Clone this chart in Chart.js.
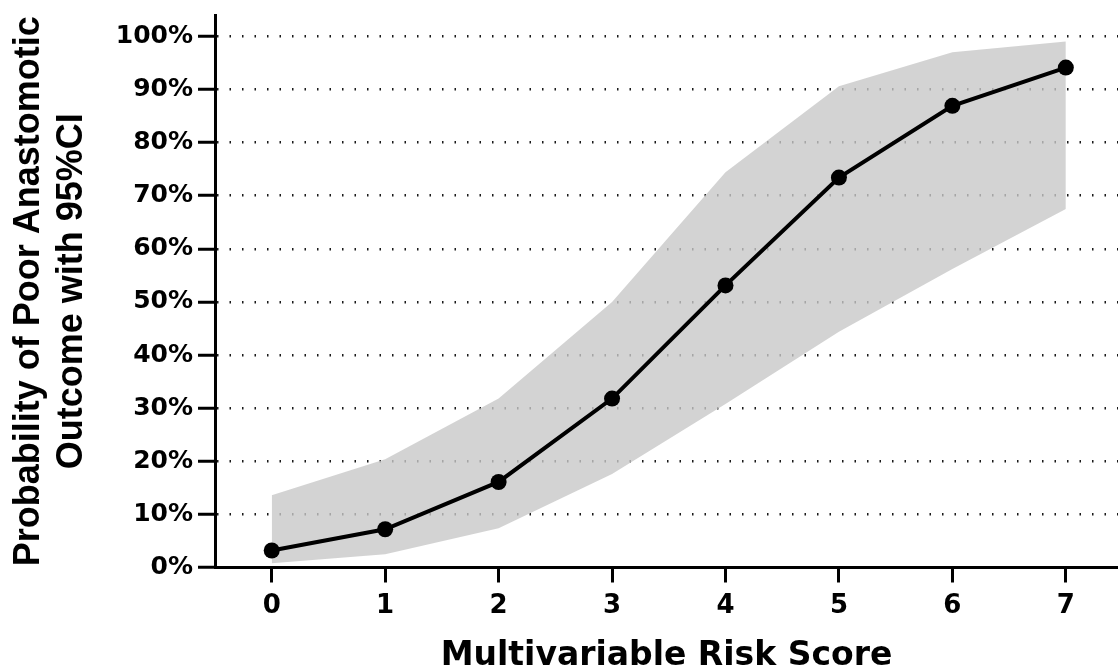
<!DOCTYPE html>
<html>
<head>
<meta charset="utf-8">
<title>Probability of Poor Anastomotic Outcome</title>
<script src="https://cdn.jsdelivr.net/npm/chart.js@4"></script>
<style>
  html, body { margin: 0; padding: 0; background: #fff; }
  #wrap { width: 1118px; height: 671px; }
</style>
</head>
<body>
<div id="wrap"><canvas id="chart" width="1118" height="671"></canvas></div>
<script>
// risk score 0..7
const scores = [0, 1, 2, 3, 4, 5, 6, 7];
// predicted probability (%)
const probability = [3.2, 7.2, 16.1, 31.8, 53.1, 73.4, 86.9, 94.1];
// 95% CI bounds (%)
const ciUpper = [13.6, 20.4, 31.8, 50.0, 74.4, 90.6, 97.0, 99.0];
const ciLower = [0.8, 2.5, 7.4, 17.6, 30.8, 44.4, 56.2, 67.5];
const yTicks = [0, 10, 20, 30, 40, 50, 60, 70, 80, 90, 100];

const toPoints = (vals) => scores.map((s, i) => ({ x: s, y: vals[i] }));

const tickFont = { family: "DejaVu Sans", weight: "bold", size: 25 };

new Chart(document.getElementById("chart"), {
  type: "line",
  data: {
    datasets: [
      {
        label: "Probability",
        data: toPoints(probability),
        borderColor: "#000",
        backgroundColor: "#000",
        borderWidth: 4,
        pointRadius: 8,
        pointBackgroundColor: "#000",
        pointBorderWidth: 0,
        fill: false,
        clip: false,
      },
      {
        label: "CI lower",
        data: toPoints(ciLower),
        borderWidth: 0,
        pointRadius: 0,
        fill: false,
      },
      {
        label: "CI upper",
        data: toPoints(ciUpper),
        borderWidth: 0,
        pointRadius: 0,
        backgroundColor: "rgba(200,200,200,0.8)",
        fill: "-1",
      },
    ],
  },
  options: {
    responsive: false,
    animation: false,
    layout: { autoPadding: false, padding: { top: 15, left: 0, right: 0, bottom: 0 } },
    plugins: { legend: { display: false }, tooltip: { enabled: false } },
    scales: {
      x: {
        type: "linear",
        min: -0.5,
        max: 7.46,
        afterBuildTicks: (axis) => { axis.ticks = scores.map((v) => ({ value: v })); },
        afterFit: (axis) => { axis.height = 103.5; },
        grid: { drawOnChartArea: false, color: "#000", lineWidth: 3, tickLength: 15, tickWidth: 3, tickColor: "#000" },
        border: { color: "#000", width: 3 },
        ticks: { color: "#000", font: { ...tickFont, size: 26 }, padding: 8, maxRotation: 0 },
        title: {
          display: true,
          text: "Multivariable Risk Score",
          color: "#000",
          font: { family: "DejaVu Sans", weight: "bold", size: 33, lineHeight: 1.2 },
          padding: { top: 0, bottom: -5 },
        },
      },
      y: {
        min: 0,
        max: 104,
        afterBuildTicks: (axis) => { axis.ticks = yTicks.map((v) => ({ value: v })); },
        afterFit: (axis) => { axis.width = 215; },
        grid: {
          color: (ctx) => (ctx.tick && ctx.tick.value === 0 ? "rgba(0,0,0,0)" : "#1a1a1a"),
          lineWidth: 2.5,
          tickLength: 17,
          tickWidth: 3,
          tickColor: "#000",
        },
        border: { color: "#000", width: 3, dash: [1.5, 11] },
        ticks: { color: "#000", font: { ...tickFont, lineHeight: 0.8 }, padding: 5, callback: (v) => v + "%" },
        title: {
          display: true,
          text: ["Probability of Poor Anastomotic", "Outcome with 95%CI"],
          color: "#000",
          font: { family: "Liberation Sans", weight: "bold", size: 36, lineHeight: 1.2 },
          padding: { top: 7, bottom: 0 },
        },
      },
    },
  },
});
</script>
</body>
</html>
